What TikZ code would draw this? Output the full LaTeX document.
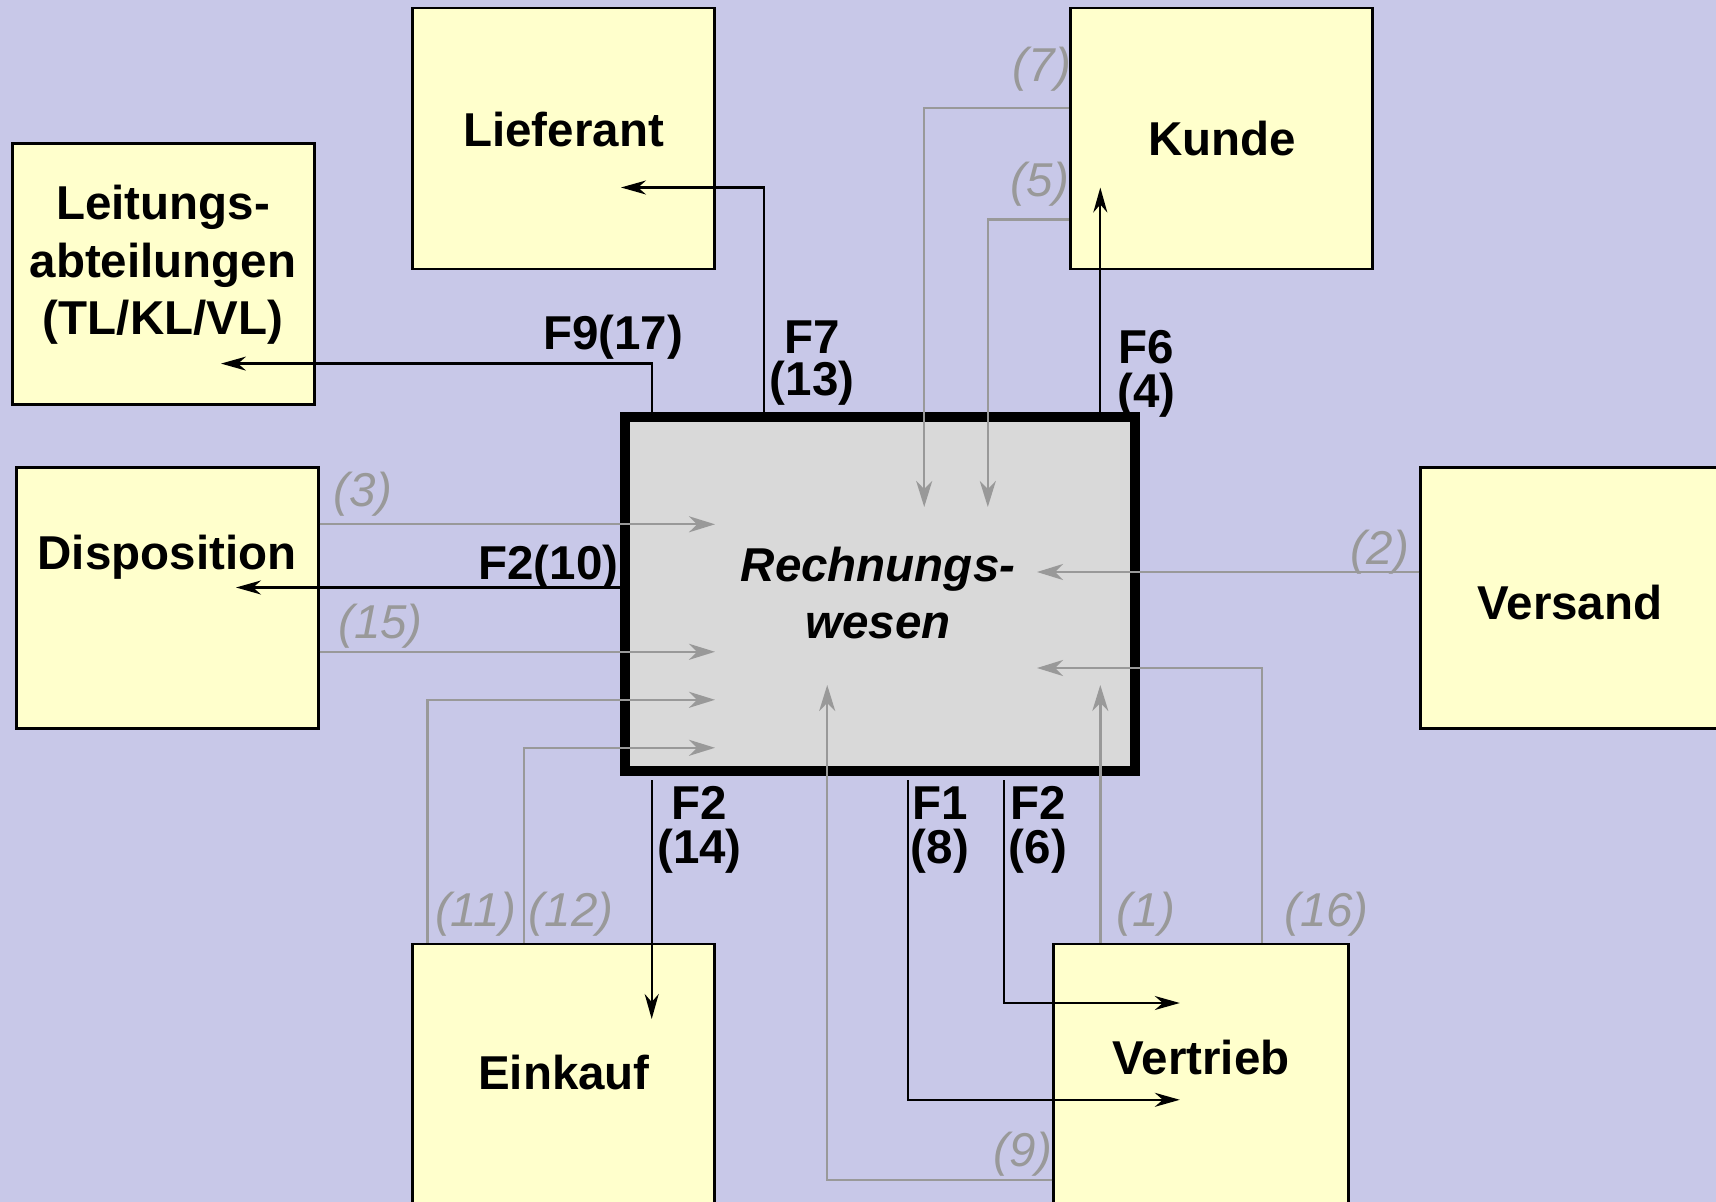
\documentclass[tikz,border=0pt]{standalone}
\usepackage{fontspec}
\setmainfont{Liberation Sans}
\usetikzlibrary{arrows.meta,calc}
\definecolor{bgc}{RGB}{200,200,232}
\definecolor{boxy}{RGB}{255,255,204}
\definecolor{rwg}{RGB}{217,217,217}
\definecolor{lg}{RGB}{153,153,153}
\begin{document}
\begin{tikzpicture}[x=0.5pt,y=-0.5pt,
  ybox/.style={draw=black, fill=boxy, line width=1.3pt, minimum width=151pt, minimum height=130.5pt, inner sep=0pt},
  big/.style={font=\fontsize{23.75}{28}\selectfont\bfseries, anchor=base, inner sep=0pt},
  bigit/.style={font=\fontsize{23.75}{28}\selectfont\bfseries\itshape, anchor=base, inner sep=0pt},
  flab/.style={font=\fontsize{23.75}{22}\selectfont\bfseries, anchor=base, inner sep=0pt},
  glab/.style={font=\fontsize{23.75}{28}\selectfont\itshape, text=lg, anchor=base, inner sep=0pt},
  bk/.style={draw=black, line width=1.1pt, -{Stealth[length=12.5pt,width=7pt,inset=4pt]}},
  gl/.style={draw=lg, line width=1.2pt, -{Stealth[length=13pt,width=8pt,inset=4pt]}},
]
\fill[bgc] (0,0) rectangle (1716,1202);
\useasboundingbox (0,0) rectangle (1716,1202);

% boxes
\node[ybox] (lief) at (563.6,138.4) {};
\node[ybox] (kunde) at (1221.5,138.4) {};
\node[ybox] (leit) at (163.5,274.3) {};
\node[ybox] (disp) at (167.2,598.2) {};
\node[ybox] (vers) at (1571.6,598.2) {};
\node[ybox] (eink) at (563.6,1074.3) {};
\node[ybox, minimum width=147.3pt] (vert) at (1201,1074.3) {};
\node[draw=black, fill=rwg, line width=5.25pt, minimum width=255pt, minimum height=177pt, inner sep=0pt] (rw) at (880,594) {};

% box texts
\node[big] (tlief) at (563.6,147) {Lieferant};
\node[big] (tkunde) at (1222,156) {Kunde};
\node[big] (tleit1) at (163,220) {Leitungs-};
\node[big] (tleit2) at (163,277.5) {abteilungen};
\node[big] (tleit3) at (163,335) {(TL/KL/VL)};
\node[big] (tdisp) at (167,569.5) {Disposition};
\node[big] (tvers) at (1570,619) {Versand};
\node[big] (teink) at (564,1089) {Einkauf};
\node[big] (tvert) at (1201,1074) {Vertrieb};
\node[bigit] (trw1) at (878,581.7) {Rechnungs-};
\node[bigit] (trw2) at (878,638.3) {wesen};

% black labels
\node[flab] (lF9) at (613,350) {F9(17)};
\node[flab] (lF7a) at (812,354) {F7};
\node[flab] (lF7b) at (812,396) {(13)};
\node[flab] (lF6a) at (1146.5,363.6) {F6};
\node[flab] (lF6b) at (1146.5,407.6) {(4)};
\node[flab] (lF10) at (548.5,580) {F2(10)};
\node[flab] (lF14a) at (699.5,819.6) {F2};
\node[flab] (lF14b) at (699.5,863) {(14)};
\node[flab] (lF8a) at (940,819.6) {F1};
\node[flab] (lF8b) at (940,863) {(8)};
\node[flab] (lF6c) at (1038,819.6) {F2};
\node[flab] (lF6d) at (1038,863) {(6)};

% gray labels
\node[glab] (l7) at (1042,82) {(7)};
\node[glab] (l5) at (1040,197) {(5)};
\node[glab] (l2) at (1380,564.5) {(2)};
\node[glab] (l3) at (363,507) {(3)};
\node[glab] (l15) at (380.5,638.4) {(15)};
\node[glab] (l11) at (475.5,926) {(11)};
\node[glab] (l12) at (571,926) {(12)};
\node[glab] (l1) at (1146,926) {(1)};
\node[glab] (l16) at (1326.5,926) {(16)};
\node[glab] (l9) at (1023,1166) {(9)};

% coordinates
\coordinate (aF9) at (221,363.6);
\coordinate (xF9) at (651.7,0);
\coordinate (aF7) at (621,187.5);
\coordinate (xF7) at (763.6,0);
\coordinate (aF6) at (1100.3,187.5);
\coordinate (aF10) at (236,587.5);
\coordinate (aF14) at (651.7,1019);
\coordinate (aF8) at (1179.8,1099.8);
\coordinate (xF8) at (907.7,0);
\coordinate (aF6b) at (1179.8,1003);
\coordinate (xF6b) at (1004.3,0);

\coordinate (c7) at (924.2,108);   \coordinate (a7) at (924.2,507);
\coordinate (c5) at (987.8,219.7); \coordinate (a5) at (987.8,507);
\coordinate (a2) at (1037,572);
\coordinate (a3) at (715,524.3);
\coordinate (a15) at (715,651.8);
\coordinate (c11) at (427.3,699.8); \coordinate (a11) at (715,699.8);
\coordinate (c12) at (523.9,747.8); \coordinate (a12) at (715,747.8);
\coordinate (c16) at (1262,668);    \coordinate (a16) at (1037,668);
\coordinate (a1) at (1100.3,685);
\coordinate (c9) at (827.2,1179.7); \coordinate (a9) at (827.2,685);

% gray connectors
\draw[gl] (kunde.west |- c7) -- (c7) -- (a7);
\draw[gl] (kunde.west |- c5) -- (c5) -- (a5);
\draw[gl] (vers.west |- a2) -- (a2);
\draw[gl] (disp.east |- a3) -- (a3);
\draw[gl] (disp.east |- a15) -- (a15);
\draw[gl] (eink.north -| c11) -- (c11) -- (a11);
\draw[gl] (eink.north -| c12) -- (c12) -- (a12);
\draw[gl] (vert.north -| c16) -- (c16) -- (a16);
\draw[gl] (vert.north -| a1) -- (a1);
\draw[gl] (vert.west |- c9) -- (c9) -- (a9);

% black connectors
\draw[bk] (rw.north -| xF9) |- (aF9);
\draw[bk] (rw.north -| xF7) |- (aF7);
\draw[bk] (rw.north -| aF6) -- (aF6);
\draw[bk] (rw.west |- aF10) -- (aF10);
\draw[bk] ($(rw.south -| aF14)+(0,4)$) -- (aF14);
\draw[bk] ($(rw.south -| xF8)+(0,4)$) |- (aF8);
\draw[bk] ($(rw.south -| xF6b)+(0,4)$) |- (aF6b);
\end{tikzpicture}
\end{document}
